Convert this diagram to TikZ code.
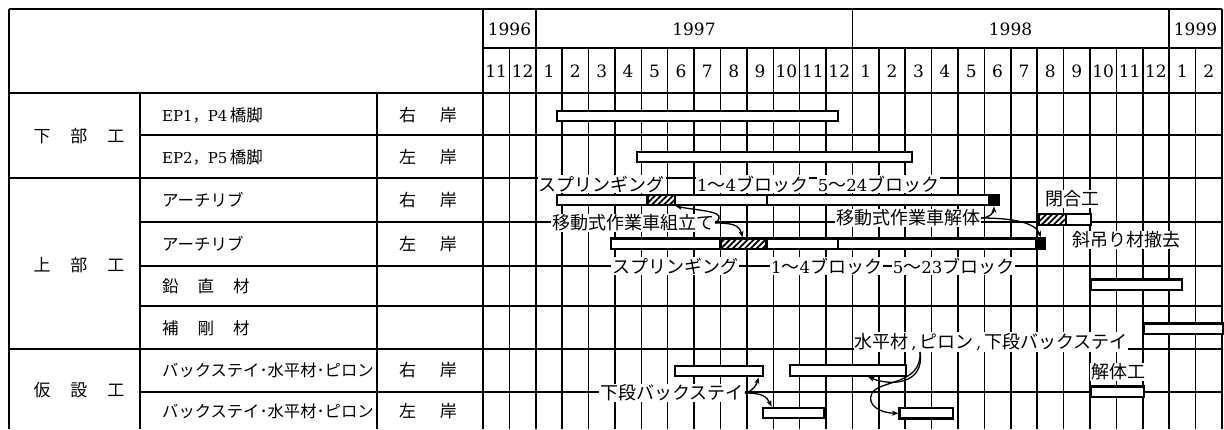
\documentclass[tikz,border=0pt]{standalone}
\usepackage{fontspec}
\setmainfont{DejaVu Serif}
\newfontfamily\jp{Noto Sans CJK JP}
\usetikzlibrary{patterns.meta,arrows.meta}
\newcommand\fs[1]{\fontsize{#1}{#1}\selectfont}
\newcommand\gbar[5][barbox]{\node[#1,minimum width={(#4-#3)*26.39pt}] (#2) at ({483+26.39*(#3)},#5) {};}
\tikzset{
  gridline/.style={line width=1.5pt},
  frameline/.style={line width=2.3pt},
  hdr/.style={font=\fs{17}, inner sep=0pt},
  cat/.style={font=\jp\fs{17}, inner sep=0pt},
  item/.style={font=\fs{15}, anchor=west, inner sep=0pt},
  side/.style={font=\jp\fs{17}, inner sep=0pt},
  lbl/.style={fill=white, font=\fs{16.5}, inner sep=1pt},
  barbase/.style={draw, line width=2.2pt, inner sep=0pt, minimum height=10.5pt, anchor=west},
  barbox/.style={barbase, fill=white},
  hatchbox/.style={barbase, preaction={fill=white}, pattern={Lines[angle=45,distance=4.2pt,line width=1.8pt]}},
  blackbox/.style={barbase, fill=black},
  arr/.style={-{Stealth[length=6.5pt,width=5pt]}, line width=1.3pt},
}
\begin{document}
\begin{tikzpicture}[x=1pt,y=-1pt]
\useasboundingbox (0,0) rectangle (1224,429);
% ---- table frame
\draw[frameline] (9,9) -- (1222,9);
\draw[frameline] (9,9) -- (9,429);
\draw[frameline] (1222,9) -- (1222,429);
\draw[frameline] (483,9) -- (483,429);
\draw[gridline] (483,48) -- (1222,48);
\draw[frameline] (9,93) -- (1222,93);
\draw[frameline] (140,93) -- (140,429);
\draw[frameline] (377,93) -- (377,429);
% month lines
\foreach \k in {1,3,4,5,6,7,8,9,10,11,12,13,15,16,17,18,19,20,21,22,23,24,25,27}
  \draw[gridline] ({483+26.39*\k},48) -- ({483+26.39*\k},429);
\foreach \k in {2,14,26}
  \draw[gridline] ({483+26.39*\k},9) -- ({483+26.39*\k},429);
% row lines
\foreach \yy in {135,222,266,306,392}
  \draw[gridline] (140,\yy) -- (1222,\yy);
\foreach \yy in {178,349}
  \draw[frameline] (9,\yy) -- (1222,\yy);
% ---- header
\node[hdr] (y96) at (509.5,29) {1996};
\node[hdr] (y97) at (694,29) {1997};
\node[hdr] (y98) at (1010.5,29) {1998};
\node[hdr] (y99) at (1195.5,29) {1999};
\foreach \lab [count=\k from 0] in {11,12,1,2,3,4,5,6,7,8,9,10,11,12,1,2,3,4,5,6,7,8,9,10,11,12,1,2}
  \node[hdr] (mo\k) at ({483+26.39*(\k+0.5)},71) {\lab};
% ---- left columns
\node[cat] (c1) at (79,136) {下\hspace{20pt}部\hspace{20pt}工};
\node[cat] (c2) at (79,265) {上\hspace{20pt}部\hspace{20pt}工};
\node[cat] (c3) at (79,390) {仮\hspace{20pt}設\hspace{20pt}工};
\node[item] (i1) at (162,115) {EP1{\jp ，}P4\,{\jp\fs{16.5}橋脚}};
\node[item] (i2) at (162,157) {EP2{\jp ，}P5\,{\jp\fs{16.5}橋脚}};
\node[item] (i3) at (162,200) {\jp\fs{16.5}アーチリブ};
\node[item] (i4) at (162,244) {\jp\fs{16.5}アーチリブ};
\node[item] (i5) at (162,286) {\jp\fs{16.5}鉛\hspace{19pt}直\hspace{19pt}材};
\node[item] (i6) at (162,328) {\jp\fs{16.5}補\hspace{19pt}剛\hspace{19pt}材};
\node[item] (i7) at (162,370) {\jp\fs{16.3}バックステイ･水平材･ピロン};
\node[item] (i8) at (162,411) {\jp\fs{16.3}バックステイ･水平材･ピロン};
\node[side] (s1) at (428,115) {右\hspace{24pt}岸};
\node[side] (s2) at (428,157) {左\hspace{24pt}岸};
\node[side] (s3) at (428,200) {右\hspace{24pt}岸};
\node[side] (s4) at (428,244) {左\hspace{24pt}岸};
\node[side] (s7) at (428,370) {右\hspace{24pt}岸};
\node[side] (s8) at (428,411) {左\hspace{24pt}岸};
% ---- bars
\gbar{r1}{2.75}{13.4}{116}
\gbar{r2}{5.79}{16.2}{157}
\gbar{r3a}{2.75}{6.2}{200}
\gbar[hatchbox]{r3h}{6.2}{7.23}{200}
\gbar{r3b}{7.23}{10.72}{200}
\gbar{r3c}{10.72}{19.12}{200}
\gbar[blackbox]{r3k}{19.12}{19.52}{200}
\gbar{r4a}{4.81}{8.96}{243.7}
\gbar[hatchbox]{r4h}{8.96}{10.7}{243.7}
\gbar{r4b}{10.7}{13.4}{243.7}
\gbar{r4c}{13.4}{20.92}{243.7}
\gbar[blackbox]{r4k}{20.92}{21.26}{243.7}
\gbar[hatchbox]{ch}{21.04}{22.05}{219.5}
\gbar{cw}{22.05}{23.0}{219.5}
\gbar{r5}{23.0}{26.44}{284.7}
\gbar{r6}{25.0}{28.0}{328.7}
\gbar{r7a}{7.24}{10.58}{371}
\gbar{r7b}{11.6}{16.0}{370.5}
\gbar{dm}{23.0}{25.0}{391.7}
\gbar{r8a}{10.56}{12.9}{413}
\gbar{r8b}{15.74}{17.76}{413.3}
% ---- labels
\node[lbl] (lb1) at (601.5,184) {\jp\fs{18}スプリンギング};
\node[lbl] (lb2) at (752.5,184) {1{\jp\fs{18}～}4{\jp\fs{18}ブロック}};
\node[lbl] (lb3) at (878.5,184) {5{\jp\fs{18}～}24{\jp\fs{18}ブロック}};
\node[lbl] (lb4) at (633,223) {\jp\fs{18}移動式作業車組立て};
\node[lbl] (lb5) at (908,218) {\jp\fs{18}移動式作業車解体};
\node[lbl] (lb6) at (1072,199) {\jp\fs{18}閉合工};
\node[lbl] (lb7) at (1126,240) {\jp\fs{18}斜吊り材撤去};
\node[lbl] (lb8) at (675,266) {\jp\fs{18}スプリンギング};
\node[lbl] (lb9) at (826.5,266) {1{\jp\fs{18}～}4{\jp\fs{18}ブロック}};
\node[lbl] (lb10) at (953.5,266) {5{\jp\fs{18}～}23{\jp\fs{18}ブロック}};
\node[lbl] (lb11) at (991,342) {{\jp\fs{18}水平材}\,,\,{\jp\fs{18}ピロン}\,,\,{\jp\fs{18}下段バックステイ}};
\node[lbl] (lb12) at (1118,372) {\jp\fs{18}解体工};
\node[lbl] (lb13) at (672,393) {\jp\fs{18}下段バックステイ};
% ---- arrows
\draw[arr] (lb4.east) .. controls +(15,-12) and +(25,5) .. (r3h.south east);
\draw[arr] (lb4.east) .. controls +(18,0) and +(-3,-12) .. ([xshift=23pt]r4h.north west);
\draw[arr] (lb5.east) .. controls +(8,0) and +(0,6) .. (r3k.south);
\draw[arr] (lb5.east) .. controls +(30,0) and +(-5,-15) .. (r4k.north);
\draw[arr] (lb13.east) .. controls +(8,-2) and +(-2,8) .. ([xshift=-6pt]r7a.south east);
\draw[arr] (lb13.east) .. controls +(18,0) and +(-5,-10) .. ([xshift=10pt]r8a.north west);
\coordinate (st) at (920,352);
\draw[arr] (st) .. controls (925,385) and (890,386) .. ([xshift=79pt]r7b.south west);
\draw[arr] (st) .. controls (922,385) and (880,380) .. (872,393) .. controls (866,405) and (880,413) .. (r8b.west);
\end{tikzpicture}
\end{document}
